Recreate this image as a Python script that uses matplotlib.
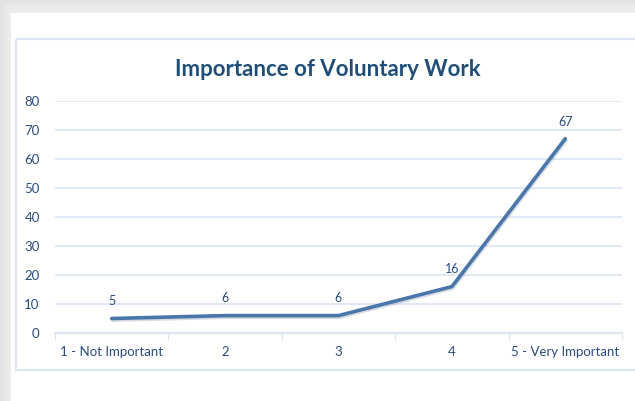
import numpy as np
import matplotlib
matplotlib.use("Agg")
import matplotlib.pyplot as plt
import matplotlib.patheffects as pe
from matplotlib.patches import Rectangle

categories = ["1 - Not Important", "2", "3", "4", "5 - Very Important"]
values = [5, 6, 6, 16, 67]
yticks = [0, 10, 20, 30, 40, 50, 60, 70, 80]

title_color = "#1F4E79"
text_color = "#2B4C7E"
line_color = "#4A76AA"
grid_color = "#DCE6F2"

W, H = 635, 401
fig = plt.figure(figsize=(W / 100, H / 100), dpi=100)

# page shadow on the left and top edges
bg = fig.add_axes([0, 0, 1, 1], zorder=-10)
bg.set_axis_off()
xs = np.arange(W)
ys = np.arange(H)
sx = np.clip((11 - xs) / 11, 0, 1)[None, :]
sy = np.clip((13 - ys) / 13, 0, 1)[:, None]
shade = np.maximum(sx * np.ones((H, 1)), sy * np.ones((1, W)))
shade = np.where((xs[None, :] < 11) | (ys[:, None] < 13), 0.55 + 0.45 * shade, 0)
img = 1 - 0.11 * shade
bg.imshow(np.dstack([img, img, img]), extent=[0, W, H, 0], aspect="auto")
bg.set_xlim(0, W)
bg.set_ylim(H, 0)

# chart box border
bg.add_patch(Rectangle((16, 39), 640, 331, fill=False, edgecolor="#DCE6F2", lw=1.5))

ax = fig.add_axes([55 / W, 1 - 333 / H, (622 - 55) / W, (333 - 101) / H])
ax.set_facecolor("none")
x = np.arange(len(categories))
ax.plot(x, values, color=line_color, lw=2.6, solid_capstyle="round",
        path_effects=[pe.SimpleLineShadow(offset=(0.6, -1.2), shadow_color="#8C9BB0", alpha=0.35),
                      pe.Normal()], zorder=3)

for xi, v in zip(x, values):
    ax.annotate(str(v), (xi, v), xytext=(0, 8), textcoords="offset points",
                ha="center", va="bottom", fontsize=9, color=text_color, family="Lato")

ax.set_xlim(-0.5, len(categories) - 0.5)
ax.set_ylim(0, 80)
ax.set_yticks(yticks)
ax.set_xticks(x)
ax.set_xticklabels(categories)
ax.set_xticks(np.arange(-0.5, len(categories)), minor=True)
ax.tick_params(axis="x", which="major", length=0, pad=9, labelsize=9.5, labelcolor=text_color)
ax.tick_params(axis="x", which="minor", length=5, color=grid_color, width=1)
ax.tick_params(axis="y", length=0, pad=11, labelsize=9.5, labelcolor=text_color)
for lab in ax.get_xticklabels() + ax.get_yticklabels():
    lab.set_family("Lato")

ax.grid(axis="y", color=grid_color, lw=1.2)
ax.set_axisbelow(True)
for s in ["top", "right", "left"]:
    ax.spines[s].set_visible(False)
ax.spines["bottom"].set_color(grid_color)
ax.spines["bottom"].set_linewidth(1.5)

fig.text(328 / W, 1 - 70 / H, "Importance of Voluntary Work", ha="center", va="center",
         fontsize=16, fontweight="bold", color=title_color, family="Lato")

fig.savefig("out.png", dpi=100)
